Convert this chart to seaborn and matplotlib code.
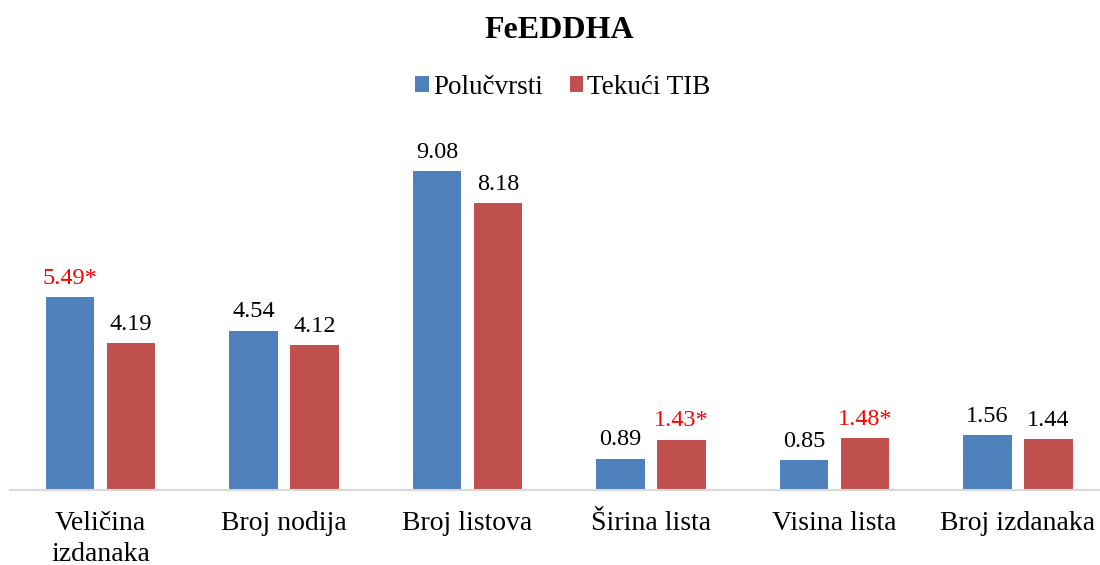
import matplotlib
matplotlib.use("Agg")
import matplotlib.pyplot as plt
import seaborn as sns
import pandas as pd

# data
categories = ["Veličina\nizdanaka", "Broj nodija", "Broj listova",
              "Širina lista", "Visina lista", "Broj izdanaka"]
polucvrsti = [5.49, 4.54, 9.08, 0.89, 0.85, 1.56]
tekuci_tib = [4.19, 4.12, 8.18, 1.43, 1.48, 1.44]
# significant differences marked with * (red labels)
sig_polucvrsti = [True, False, False, False, False, False]
sig_tekuci = [False, False, False, True, True, False]
series = ["Polučvrsti", "Tekući TIB"]
colors = ["#4F81BD", "#C0504D"]

sns.set_theme(style="white")
plt.rcParams["font.family"] = ["Liberation Serif", "DejaVu Serif"]
plt.rcParams["text.color"] = "black"

df = pd.DataFrame({
    "kategorija": categories * 2,
    "vrijednost": polucvrsti + tekuci_tib,
    "medij": [series[0]] * len(categories) + [series[1]] * len(categories),
})

fig = plt.figure(figsize=(11, 5.65), dpi=100)
ax = fig.add_axes([10 / 1100, 75 / 565, 1090 / 1100, 351 / 565])

sns.barplot(ax=ax, data=df, x="kategorija", y="vrijednost", hue="medij",
            palette=colors, width=0.665, gap=0.205, linewidth=0,
            saturation=1, legend=True)

# value labels above bars
for cont, vals, sig in zip(ax.containers, [polucvrsti, tekuci_tib],
                           [sig_polucvrsti, sig_tekuci]):
    labs = [f"{v:.2f}*" if s else f"{v:.2f}" for v, s in zip(vals, sig)]
    texts = ax.bar_label(cont, labels=labs, padding=6, fontsize=17.5)
    for t, s in zip(texts, sig):
        t.set_color("#FF0000" if s else "black")

ax.set_ylim(0, 10)
ax.set_xlim(-0.493, 5.447)
ax.set_xlabel("")
ax.set_ylabel("")
ax.set_yticks([])
ax.set_xticks(range(len(categories)), categories, linespacing=1.3)
ax.tick_params(axis="x", length=0, pad=15, labelsize=20, colors="black")
for side in ["top", "right", "left"]:
    ax.spines[side].set_visible(False)
ax.spines["bottom"].set_color("#D9D9D9")
ax.spines["bottom"].set_linewidth(1.5)

handles, labels = ax.get_legend_handles_labels()
ax.get_legend().remove()
fig.legend(handles, labels, loc="center", bbox_to_anchor=(563 / 1100, 1 - 87 / 565),
           ncol=2, frameon=False, fontsize=19.5, handlelength=0.5, handleheight=0.5,
           handletextpad=0.15, columnspacing=1.0, labelcolor="black")

fig.text(559 / 1100, 1 - 38 / 565, "FeEDDHA", ha="center", va="baseline",
         fontsize=23, fontweight="bold", color="black")

fig.savefig("out.png", dpi=100)
